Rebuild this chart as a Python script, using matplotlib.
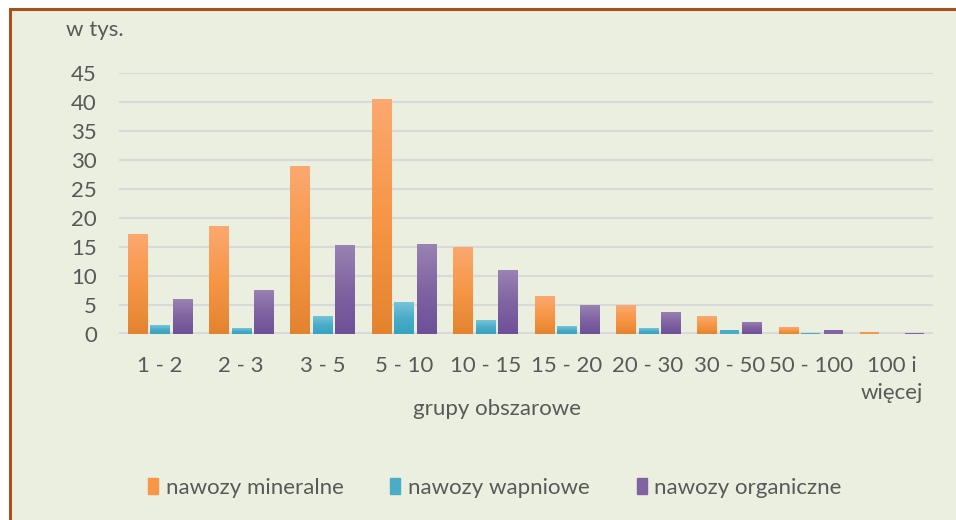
import matplotlib
matplotlib.use("Agg")
import matplotlib.pyplot as plt
import matplotlib.patches as mpatches
from matplotlib.colors import LinearSegmentedColormap
import numpy as np

plt.rcParams['font.family'] = ['Lato', 'DejaVu Sans']

# data (thousands)
categories = ['1 - 2', '2 - 3', '3 - 5', '5 - 10', '10 - 15', '15 - 20',
              '20 - 30', '30 - 50', '50 - 100', '100 i\nwięcej']
mineralne = [17.3, 18.6, 29.0, 40.5, 15.0, 6.5, 5.0, 3.1, 1.2, 0.35]
wapniowe = [1.5, 1.0, 3.1, 5.5, 2.4, 1.3, 1.0, 0.7, 0.15, 0.05]
organiczne = [6.0, 7.6, 15.3, 15.5, 11.0, 5.0, 3.8, 2.1, 0.7, 0.15]
series = [mineralne, wapniowe, organiczne]
labels = ['nawozy mineralne', 'nawozy wapniowe', 'nawozy organiczne']
# top, middle, bottom colours of each gradient
grads = [('#FBA870', '#F79646', '#E4832F'),
         ('#76C4DA', '#4BACC6', '#35A3C1'),
         ('#9A82B2', '#8064A2', '#6E5098')]

bg = '#EBEFDF'
txt = '#595959'
grid_c = '#D9D9D9'
fs = 16

fig = plt.figure(figsize=(9.56, 5.2), dpi=100, facecolor='white')

# frame of the chart area
frame = mpatches.Rectangle((9.5 / 956, -0.05), 1.1, (520 - 8.5) / 520 + 0.05,
                           transform=fig.transFigure, facecolor=bg,
                           edgecolor='#A5521C', linewidth=2.2, zorder=-10)
fig.patches.append(frame)

ax = fig.add_axes([119 / 956, (520 - 334) / 520, (933 - 119) / 956, (334 - 73) / 520])
ax.set_zorder(5)
ax.set_facecolor('none')

x = np.arange(len(categories))
w = 0.235
step = 0.277
for i, (vals, g) in enumerate(zip(series, grads)):
    cmap = LinearSegmentedColormap.from_list('g%d' % i, [g[2], g[1], g[0]])
    grad = np.linspace(0, 1, 64).reshape(-1, 1)
    bars = ax.bar(x + (i - 1) * step, vals, w, color=g[1], zorder=2, linewidth=0)
    for b in bars:
        bx, by = b.get_x(), b.get_y()
        bw, bh = b.get_width(), b.get_height()
        if bh < 1:
            continue
        # gradient over the bar's own height
        im = ax.imshow(grad, cmap=cmap, origin='lower', aspect='auto',
                       extent=[bx, bx + bw, by, by + bh], zorder=3)
        im.set_clip_path(b)
ax.set_xlim(-0.5, 9.5)
ax.set_ylim(0, 45)

ax.set_yticks(np.arange(0, 50, 5))
ax.yaxis.grid(True, color=grid_c, linewidth=1.6, zorder=1)
ax.set_axisbelow(True)
ax.axhline(0, color=grid_c, linewidth=3, zorder=1.5)
for s in ax.spines.values():
    s.set_visible(False)
ax.tick_params(axis='y', length=0, pad=16, labelsize=fs, labelcolor=txt)
ax.tick_params(axis='x', length=0, pad=16, labelsize=fs, labelcolor=txt)
ax.set_xticks(x)
ax.set_xticklabels(categories, va='top', linespacing=1.45)

fig.text(497 / 956, 1 - 409 / 520, 'grupy obszarowe', fontsize=fs, color=txt,
         ha='center', va='center')
fig.text(66 / 956, 1 - 30 / 520, 'w tys.', fontsize=fs, color=txt, va='center')

handles = [mpatches.Patch(color=g[1]) for g in grads]
fig.legend(handles, labels, loc='center', bbox_to_anchor=(495 / 956, 1 - 488 / 520),
           ncol=3, frameon=False, fontsize=fs, labelcolor=txt,
           handlelength=0.45, handleheight=0.7, handletextpad=0.35,
           columnspacing=2.1)

fig.savefig('out.png', dpi=100, facecolor=fig.get_facecolor())
